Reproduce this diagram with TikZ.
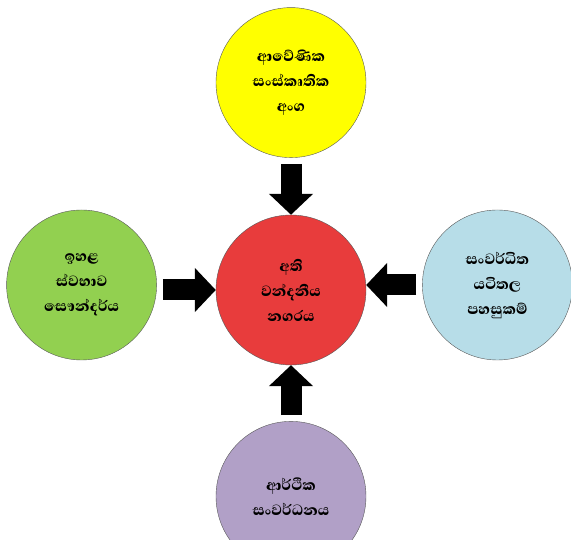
\documentclass[tikz,border=0pt]{standalone}
\usepackage{fontspec}
\newfontfamily\sinhala[Script=Sinhala, BoldFont={Abhaya Libre ExtraBold}]{Abhaya Libre}
\usetikzlibrary{positioning,arrows.meta}

\definecolor{cityred}{HTML}{E83C3C}
\definecolor{heritage}{HTML}{FFFF00}
\definecolor{nature}{HTML}{92D050}
\definecolor{infra}{HTML}{B7DDE8}
\definecolor{economy}{HTML}{B1A0C7}

\begin{document}
\begin{tikzpicture}[x=1pt, y=1pt, node distance = 57pt,
    topic/.style={circle, draw=black!65, thin, minimum size=150pt, inner sep=0pt,
        align=center, font=\sinhala\bfseries\fontsize{19}{25}\selectfont},
    push/.style={line width=21pt, -{Triangle[length=21pt,width=43pt]}, shorten <=6pt}]
                    \useasboundingbox (0,0) rectangle (571,540);
                    \node [topic, fill=cityred] at (291,250) (city) {අති\\වන්දනීය\\නගරය};
                    \node [topic, fill=heritage] [above=of city] (heritage) {ආවේණික\\සංස්කෘතික\\අංග};
                    \node [topic, fill=nature] [left=59pt of city, yshift=5pt] (nature) {ඉහළ\\ස්වභාව\\සෞන්දර්ය};
                    \node [topic, fill=infra] [right=56pt of city, yshift=5pt] (infra) {සංවර්ධිත\\යටිතල\\පහසුකම්};
                    \node [topic, fill=economy] [below=56pt of city] (economy) {ආර්ථික\\සංවර්ධනය};

                    \path[push]
                    (heritage) edge (city)
                    (nature.east |- city) edge (city)
                    (infra) edge (city.east |- infra)
                    (economy) edge (city);

                \end{tikzpicture}
\end{document}
